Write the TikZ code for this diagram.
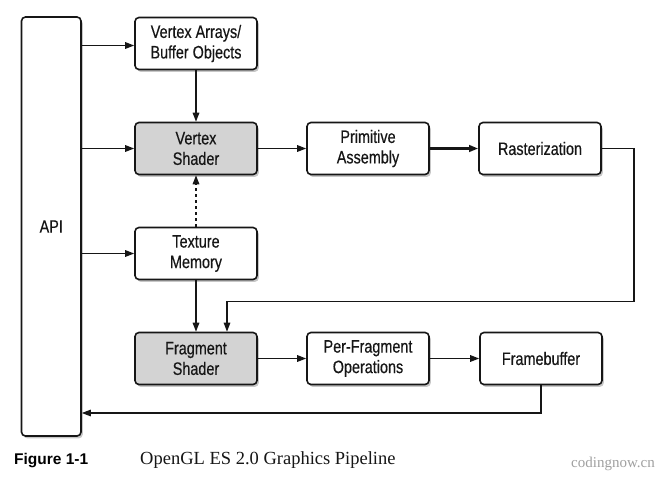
\documentclass[tikz,border=0pt]{standalone}
\usepackage{fontspec}
\newfontfamily\boxfont[FakeStretch=0.8,FakeBold=0.4]{Liberation Sans}
\newfontfamily\capsans{Liberation Sans}
\newfontfamily\capserif{Liberation Serif}
\usetikzlibrary{arrows.meta,shadows,calc}
\definecolor{edge}{HTML}{161616}
\definecolor{shadefill}{HTML}{D3D3D3}
\definecolor{wmark}{HTML}{A0A0A0}
\tikzset{
  stagebox/.style={draw=edge, line width=1.6pt, rounded corners=4pt, fill=white,
    minimum width=122pt, minimum height=52pt, align=center, text=edge,
    font=\boxfont\fontsize{18}{20.5}\selectfont, inner sep=0pt,
    drop shadow={shadow xshift=1.8pt, shadow yshift=-2.4pt, opacity=0.22, fill=black}},
  graybox/.style={stagebox, fill=shadefill},
  flow/.style={draw=edge, line width=1.5pt, -{Triangle[length=9pt,width=6.5pt]}},
  thickflow/.style={flow, line width=2.4pt},
  backflow/.style={draw=edge, line width=1.2pt, -{Triangle[length=9pt,width=6.5pt]}},
}
\begin{document}
\begin{tikzpicture}[x=1pt,y=-1pt]
\useasboundingbox[fill=white] (0,0) rectangle (668,482);
% API column
\node[stagebox, minimum width=59.5pt, minimum height=419pt] (api) at (51.25,226.5) {API};
% boxes
\node[stagebox] (va) at (196,43.5) {Vertex Arrays/\\Buffer Objects};
\node[graybox] (vs) at (196,148.5) {Vertex\\Shader};
\node[stagebox] (pa) at (368,148.5) {Primitive\\Assembly};
\node[stagebox] (ra) at (540,148.5) {Rasterization};
\node[stagebox] (tm) at (196,253.5) {Texture\\Memory};
\node[graybox] (fs) at (196,358.5) {Fragment\\Shader};
\node[stagebox] (pf) at (368,358.5) {Per-Fragment\\Operations};
\node[stagebox] (fb) at (541,358.5) {Framebuffer};
% API feeds
\draw[flow] (api.east |- 0,45.5) -- (va.west |- 0,45.5);
\draw[flow] (api.east |- vs.west) -- (vs.west);
\draw[flow] (api.east |- tm.west) -- (tm.west);
% vertical flows
\draw[flow] (va.south) -- (vs.north);
\draw[flow, dashed, dash pattern=on 3pt off 3pt] (tm.north) -- (vs.south);
\draw[flow] (tm.south) -- (fs.north);
% horizontal flows
\draw[flow] (vs.east) -- (pa.west);
\draw[thickflow] (pa.east) -- (ra.west);
\draw[flow] (fs.east) -- (pf.west);
\draw[flow] (pf.east) -- (fb.west);
% feedback loops
\coordinate (rturn) at (634,301.5);
\coordinate (fsin) at (227,301.5);
\draw[backflow] (ra.east) -| (rturn) -- (fsin) -- (fsin |- fs.north);
\coordinate (fbturn) at (fb.south |- 0,413);
\draw[backflow] (fb.south) -- (fbturn) -- (api.east |- fbturn);
% caption
\node[anchor=base west, inner sep=0pt, font=\capsans\bfseries\fontsize{15.5}{18}\selectfont, text=black] (figlabel) at (14,464) {Figure 1-1};
\node[anchor=base west, inner sep=0pt, font=\capserif\fontsize{18.5}{22}\selectfont, text=edge] (figtitle) at (140,464) {OpenGL ES 2.0 Graphics Pipeline};
\node[anchor=base east, inner sep=0pt, font=\capserif\fontsize{15}{18}\selectfont, text=wmark] (wm) at (655,467) {codingnow.cn};
\end{tikzpicture}
\end{document}
